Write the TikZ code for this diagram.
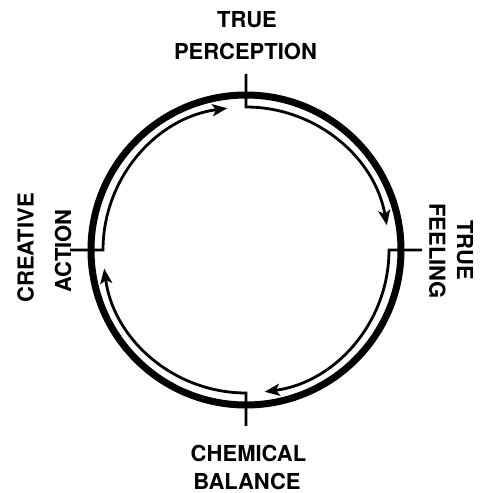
\documentclass[tikz,border=0pt]{standalone}
\usepackage{fontspec}
\setmainfont{TeX Gyre Heros}
\usetikzlibrary{arrows.meta,calc}
\begin{document}
\begin{tikzpicture}[x=1pt,y=1pt,
  ring/.style={line width=7pt},
  flow/.style={line width=2.8pt,line join=miter,-{Stealth[length=15pt,width=12pt,inset=3.5pt]}},
  lbl/.style={font=\fontsize{22}{24}\selectfont\bfseries,inner sep=0pt}]
\useasboundingbox (0,0) rectangle (488,493);
\coordinate (C) at (246,243);
\draw[ring] (C) circle[radius=155];
% quarter flows: tick + step + arc with arrow
\draw[flow] ($(C)+(90:176)$) coordinate (tT) -- ($(C)+(90:143)$) coordinate (sT)
  arc[start angle=90,end angle=10,radius=143];
\draw[flow] ($(C)+(0:176)$) coordinate (tR) -- ($(C)+(0:143)$) coordinate (sR)
  arc[start angle=0,end angle=-82.5,radius=143];
\draw[flow] ($(C)+(-90:176)$) coordinate (tB) -- ($(C)+(-90:143)$) coordinate (sB)
  arc[start angle=-90,end angle=-172.5,radius=143];
\draw[flow] ($(C)+(180:176)$) coordinate (tL) -- ($(C)+(180:143)$) coordinate (sL)
  arc[start angle=180,end angle=97.5,radius=143];
% labels
\node[lbl] (t1) at (247,473.5) {TRUE};
\node[lbl] (t2) at (245.5,442) {PERCEPTION};
\node[lbl,rotate=-90] (r1) at (465,243) {TRUE};
\node[lbl,rotate=-90] (r2) at (437.5,242) {FEELING};
\node[lbl] (b1) at (248.5,39.5) {CHEMICAL};
\node[lbl] (b2) at (247,12) {BALANCE};
\node[lbl,rotate=90] (l1) at (25.5,245) {CREATIVE};
\node[lbl,rotate=90] (l2) at (63,242) {ACTION};
\end{tikzpicture}
\end{document}
